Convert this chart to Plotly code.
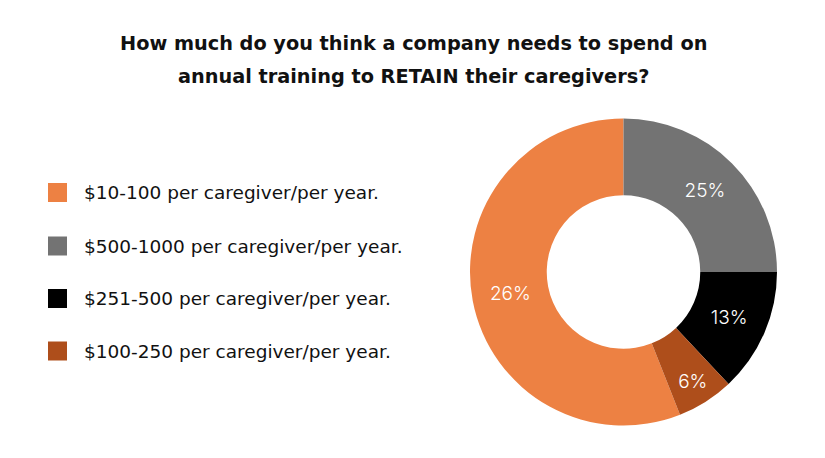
import plotly.graph_objects as go

# data
categories = [
    "$10-100 per caregiver/per year.",
    "$500-1000 per caregiver/per year.",
    "$251-500 per caregiver/per year.",
    "$100-250 per caregiver/per year.",
]
slice_values = [56, 25, 13, 6]
slice_labels = ["26%", "25%", "13%", "6%"]
colors = ["#ED8143", "#737373", "#000000", "#AE4E1B"]

title_lines = ["How much do you think a company needs to spend on",
               "annual training to RETAIN their caregivers?"]

W, H = 825, 458
OFF = 8  # page body margin in the browser
cx, cy, r = 623.5 - OFF, 272 - OFF, 153.5


def px(x):
    return (x - OFF) / W


def py(y):
    return (H - (y - OFF)) / H


fig = go.Figure(go.Pie(
    labels=categories,
    values=slice_values,
    text=slice_labels,
    textinfo="text",
    textposition="inside",
    insidetextorientation="horizontal",
    textfont=dict(color="white", size=19, family="Inter, Lato, sans-serif", weight=300),
    marker=dict(colors=colors, line=dict(width=0)),
    hole=0.5,
    sort=False,
    direction="clockwise",
    rotation=158.4,
    showlegend=False,
    hoverinfo="label+text",
    domain=dict(x=[(cx - r) / W, (cx + r) / W],
                y=[(H - cy - r) / H, (H - cy + r) / H]),
))

# hand-made legend so the row spacing matches the reference
row_y = [192.5, 246, 298.5, 351]
for name, col, y in zip(categories, colors, row_y):
    fig.add_shape(type="rect", xref="paper", yref="paper",
                  x0=px(48), x1=px(67),
                  y0=py(y + 9.5), y1=py(y - 9.5),
                  fillcolor=col, line=dict(width=0))
    fig.add_annotation(text=name, xref="paper", yref="paper",
                       x=px(82), y=py(y), xanchor="left", yanchor="middle",
                       showarrow=False,
                       font=dict(size=18.5, color="#111111", family="DejaVu Sans, sans-serif"))

for line, y in zip(title_lines, [43, 76]):
    fig.add_annotation(text=line, xref="paper", yref="paper",
                       x=px(413), y=py(y), xanchor="center", yanchor="middle",
                       showarrow=False,
                       font=dict(size=19.3, color="#111111", family="DejaVu Sans, sans-serif", weight=600))

fig.update_layout(
    width=W, height=H,
    margin=dict(l=0, r=0, t=0, b=0),
    paper_bgcolor="white",
    plot_bgcolor="white",
)

fig.write_html("out.html")
